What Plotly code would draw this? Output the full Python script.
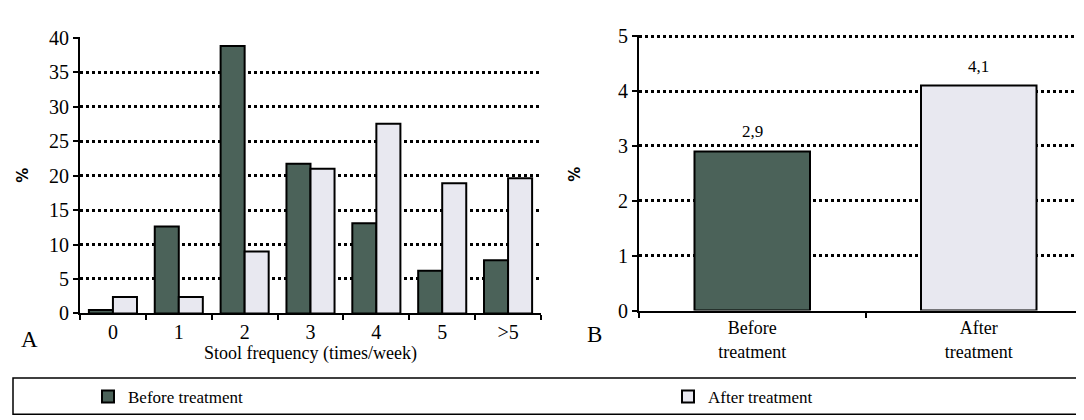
import plotly.graph_objects as go

categories_a = ["0", "1", "2", "3", "4", "5", ">5"]
before_a = [0.5, 12.6, 38.8, 21.7, 13.1, 6.2, 7.7]
after_a = [2.4, 2.4, 9.0, 21.0, 27.5, 18.9, 19.6]

categories_b = ["Before<br>treatment", "After<br>treatment"]
values_b = [2.9, 4.1]
labels_b = ["2,9", "4,1"]

series_names = ["Before treatment", "After treatment"]
dark = "#4b6259"
light = "#e8e8f0"
FONT = "Liberation Serif"

fig = go.Figure()
fig.add_trace(go.Bar(x=categories_a, y=before_a, name=series_names[0],
                     marker=dict(color=dark, line=dict(color="black", width=2)),
                     xaxis="x", yaxis="y", legend="legend"))
fig.add_trace(go.Bar(x=categories_a, y=after_a, name=series_names[1],
                     marker=dict(color=light, line=dict(color="black", width=2)),
                     xaxis="x", yaxis="y", legend="legend2"))
fig.add_trace(go.Bar(x=categories_b, y=values_b,
                     marker=dict(color=[dark, light], line=dict(color="black", width=2)),
                     xaxis="x2", yaxis="y2", showlegend=False, width=0.51))
for cat, val, lab in zip(categories_b, values_b, labels_b):
    fig.add_annotation(x=cat, y=val, text=lab, xref="x2", yref="y2", showarrow=False,
                       yanchor="bottom", yshift=8,
                       font=dict(family=FONT, size=17, color="black"))

W, H = 1084, 420
axis_common = dict(showline=True, linecolor="black", linewidth=2, ticks="outside",
                   tickcolor="black", tickwidth=2, ticklen=5,
                   tickfont=dict(family=FONT, size=20, color="black"))
legend_common = dict(orientation="h", yanchor="middle", xanchor="left",
                     font=dict(family=FONT, size=17, color="black"),
                     bgcolor="rgba(0,0,0,0)", borderwidth=0)

fig.update_layout(
    width=W, height=H, margin=dict(l=0, r=0, t=0, b=0),
    paper_bgcolor="white", plot_bgcolor="white",
    barmode="group", bargap=0.27, bargroupgap=0,
    font=dict(family=FONT, size=16, color="black"),
    xaxis=dict(domain=[72 / W, 533 / W], anchor="y", tickson="boundaries",
               showgrid=False, **axis_common),
    yaxis=dict(domain=[(H - 311) / H, (H - 20) / H], anchor="x", range=[0, 40.1],
               dtick=5, showgrid=True, gridcolor="black", gridwidth=2.5, griddash="dot",
               zeroline=False, **axis_common),
    xaxis2=dict(domain=[631 / W, 1.0], anchor="y2", tickson="boundaries",
                showgrid=False, **axis_common),
    yaxis2=dict(domain=[(H - 308) / H, (H - 18) / H], anchor="x2", range=[0, 5.02],
                dtick=1, showgrid=True, gridcolor="black", gridwidth=2.5, griddash="dot",
                zeroline=False, **axis_common),
    legend=dict(x=80 / W, y=(H - 399) / H, **legend_common),
    legend2=dict(x=660 / W, y=(H - 399) / H, **legend_common),
    showlegend=True,
)
fig.update_xaxes(tickfont=dict(size=18), selector=dict(anchor="y2"))

fig.add_shape(type="rect", xref="paper", yref="paper",
              x0=5 / W, x1=1080 / W, y0=(H - 417) / H, y1=(H - 379) / H,
              line=dict(color="black", width=1.5), fillcolor="rgba(0,0,0,0)")

annotations = [
    dict(text="A", x=21 / W, y=(H - 338) / H, size=23),
    dict(text="B", x=586 / W, y=(H - 333) / H, size=23),
    dict(text="Stool frequency (times/week)", x=302 / W, y=(H - 353) / H, size=18),
]
for a in annotations:
    fig.add_annotation(text=a["text"], x=a["x"], y=a["y"], xref="paper", yref="paper",
                       xanchor="center", yanchor="middle", showarrow=False,
                       font=dict(family=FONT, size=a["size"], color="black"))
for xp, yp in [(15 / W, (H - 166) / H), (567 / W, (H - 165) / H)]:
    fig.add_annotation(text="<b>%</b>", x=xp, y=yp, xref="paper", yref="paper",
                       showarrow=False, xanchor="center", yanchor="middle", textangle=-90,
                       font=dict(family="DejaVu Sans", size=15, color="black"))

fig.write_html("out.html")
